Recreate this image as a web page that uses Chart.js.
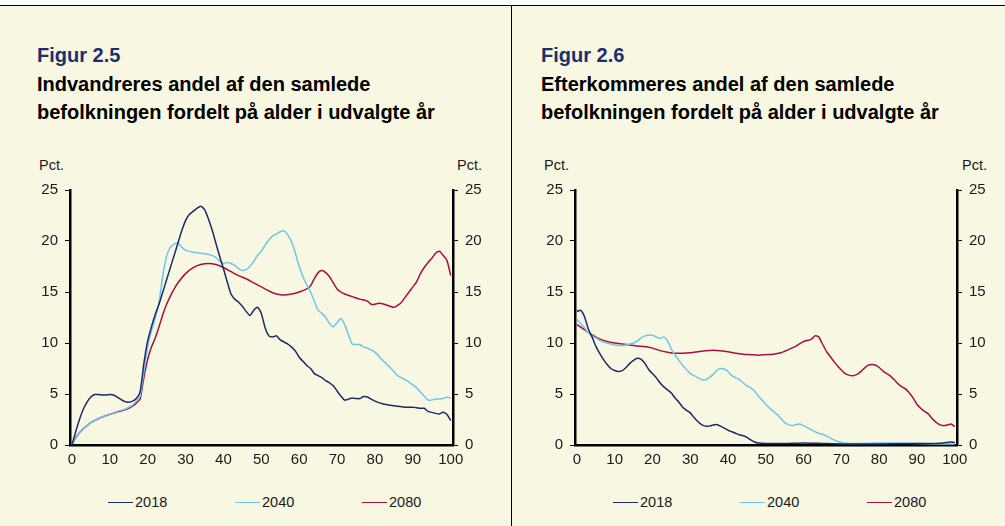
<!DOCTYPE html>
<html><head><meta charset="utf-8">
<script src="https://cdn.jsdelivr.net/npm/chart.js@4"></script>
<style>
html,body{margin:0;padding:0;background:#fff;}
body{width:1005px;height:526px;position:relative;overflow:hidden;font-family:"Liberation Sans",Arial,sans-serif;}
#bg{position:absolute;left:0;top:5px;width:1005px;height:521px;background:#F8F7E1;border-top:1.5px solid #000;box-sizing:border-box;}
#divider{position:absolute;left:511px;top:5px;width:1px;height:521px;background:#000;}
.title{position:absolute;top:41px;font-weight:bold;font-size:20px;line-height:28.5px;color:#000;white-space:nowrap;}
.title .fig{color:#1B2F6E;}
.pct{position:absolute;top:156px;font-size:14.5px;line-height:18px;color:#1a1a1a;}
canvas{position:absolute;}
.item{position:absolute;top:493px;font-size:14.5px;line-height:18px;color:#1a1a1a;white-space:nowrap;}
.swatch{display:inline-block;width:25px;height:0;border-top:1.5px solid;vertical-align:middle;margin-right:2px;position:relative;top:-1px;}
</style>
</head><body>
<div id="bg"></div>
<div id="divider"></div>
<div class="title" style="left:37px"><span class="fig">Figur 2.5</span><br>Indvandreres andel af den samlede<br>befolkningen fordelt på alder i udvalgte år</div>
<div class="title" style="left:541px"><span class="fig">Figur 2.6</span><br>Efterkommeres andel af den samlede<br>befolkningen fordelt på alder i udvalgte år</div>
<div class="pct" style="left:39px">Pct.</div>
<div class="pct" style="left:457px">Pct.</div>
<div class="pct" style="left:544px">Pct.</div>
<div class="pct" style="left:962px">Pct.</div>
<canvas id="c1" width="511" height="320" style="left:0;top:150px;width:511px;height:320px"></canvas>
<canvas id="c2" width="493" height="320" style="left:512px;top:150px;width:493px;height:320px"></canvas>
<div id="leg"></div>
<script>
// ---- data: [age, percent] ----
const seriesNames = ['2018', '2040', '2080'];
const seriesColors = ['#1B2A6B', '#6DC6EC', '#A8103C'];
const yTicks = [0, 5, 10, 15, 20, 25];
const xTicks = [0, 10, 20, 30, 40, 50, 60, 70, 80, 90, 100];

const fig25_2018 = [[0,0],[1,1.3],[2,2.5],[3,3.5],[4,4.2],[5,4.7],[6,4.95],[7,4.95],[8,4.9],[9,4.9],[10,4.95],[11,4.9],[12,4.7],[13,4.45],[14,4.25],[15,4.2],[16,4.3],[17,4.55],[18,5.2],[19,8.0],[20,10.2],[21,11.6],[22,12.8],[23,13.8],[24,15.0],[25,16.2],[26,17.4],[27,18.6],[28,19.8],[29,21.0],[30,22.0],[31,22.6],[32,22.9],[33,23.2],[34,23.4],[35,23.1],[36,22.2],[37,21.1],[38,19.8],[39,18.5],[40,17.3],[41,16.0],[42,14.8],[43,14.3],[44,14.0],[45,13.6],[46,13.1],[47,12.7],[48,13.2],[49,13.5],[50,12.9],[51,11.5],[52,10.7],[53,10.6],[54,10.7],[55,10.3],[56,10.1],[57,9.9],[58,9.6],[59,9.2],[60,8.6],[61,8.2],[62,7.8],[63,7.5],[64,7.0],[65,6.8],[66,6.6],[67,6.3],[68,6.1],[69,5.8],[70,5.3],[71,4.8],[72,4.4],[73,4.5],[74,4.6],[75,4.55],[76,4.55],[77,4.75],[78,4.7],[79,4.5],[80,4.3],[82,4.05],[84,3.9],[86,3.8],[88,3.7],[90,3.7],[91,3.65],[92,3.6],[93,3.6],[94,3.3],[95,3.2],[96,3.1],[97,3.05],[98,3.2],[99,3.0],[100,2.4]];
const fig25_2040 = [[0,0],[2,1.2],[4,1.9],[6,2.4],[8,2.75],[10,3.0],[12,3.3],[14,3.5],[15,3.7],[16,3.9],[17,4.3],[18,4.8],[19,7.2],[20,9.6],[21,11.2],[22,12.4],[23,14.0],[24,16.6],[25,18.5],[26,19.4],[27,19.7],[28,19.8],[29,19.4],[30,19.1],[32,18.9],[34,18.8],[36,18.7],[38,18.4],[39,18.0],[40,17.8],[41,17.9],[42,17.8],[43,17.6],[44,17.3],[45,17.1],[46,17.2],[47,17.5],[48,18.0],[49,18.6],[50,19.0],[51,19.6],[52,20.1],[53,20.5],[54,20.7],[55,20.9],[56,21.0],[57,20.6],[58,19.9],[59,18.8],[60,17.5],[61,16.5],[62,15.7],[63,15.0],[64,14.1],[65,13.2],[66,12.9],[67,12.5],[68,11.9],[69,11.6],[70,12.0],[71,12.4],[72,11.8],[73,10.8],[74,9.9],[75,9.85],[76,9.85],[77,9.6],[78,9.5],[80,9.1],[82,8.3],[84,7.6],[86,6.8],[88,6.4],[90,5.9],[91,5.6],[92,5.2],[93,4.8],[94,4.4],[95,4.4],[96,4.5],[97,4.5],[98,4.55],[99,4.7],[100,4.6]];
const fig25_2080 = [[0,0],[1,0.7],[2,1.2],[3,1.6],[4,1.9],[5,2.2],[6,2.4],[8,2.75],[10,3.0],[12,3.25],[14,3.45],[15,3.6],[16,3.8],[17,4.1],[18,4.5],[19,6.6],[20,8.4],[21,9.6],[22,10.5],[23,11.6],[24,12.8],[25,13.8],[26,14.6],[27,15.3],[28,15.9],[30,16.8],[32,17.4],[34,17.7],[36,17.8],[38,17.7],[40,17.4],[42,17.0],[44,16.6],[46,16.3],[48,15.9],[50,15.5],[52,15.1],[54,14.8],[56,14.7],[58,14.8],[60,15.0],[62,15.3],[63,15.6],[64,16.3],[65,16.9],[66,17.1],[67,16.9],[68,16.5],[69,15.9],[70,15.3],[71,15.0],[72,14.8],[74,14.55],[76,14.3],[78,14.1],[79,13.8],[80,13.8],[81,13.9],[82,13.85],[84,13.6],[85,13.5],[86,13.7],[87,14.0],[88,14.5],[89,15.0],[90,15.5],[91,16.0],[92,16.8],[93,17.4],[94,17.9],[95,18.3],[96,18.8],[97,19.0],[98,18.6],[99,18.1],[100,16.6]];

const fig26_2018 = [[0,13.1],[1,13.2],[2,12.6],[3,11.4],[4,10.6],[5,9.7],[6,9.0],[7,8.4],[8,7.9],[9,7.5],[10,7.3],[11,7.2],[12,7.3],[13,7.6],[14,8.0],[15,8.3],[16,8.5],[17,8.4],[18,8.0],[19,7.4],[20,7.0],[21,6.6],[22,6.1],[23,5.7],[24,5.4],[25,5.1],[26,4.6],[27,4.2],[28,3.7],[29,3.4],[30,3.15],[31,2.7],[32,2.3],[33,2.0],[34,1.85],[35,1.85],[36,1.95],[37,2.0],[38,1.85],[39,1.65],[40,1.45],[41,1.3],[42,1.15],[43,1.0],[44,0.9],[45,0.75],[46,0.5],[47,0.3],[48,0.2],[50,0.15],[55,0.15],[60,0.2],[65,0.15],[70,0.1],[80,0.1],[90,0.15],[95,0.15],[98,0.25],[99,0.3],[100,0.25]];
const fig26_2040 = [[0,12.35],[1,11.9],[2,11.5],[3,11.0],[4,10.7],[5,10.5],[6,10.25],[7,10.1],[8,10.0],[9,9.9],[10,9.8],[11,9.75],[12,9.75],[13,9.8],[14,9.9],[15,10.0],[16,10.2],[17,10.5],[18,10.7],[19,10.75],[20,10.75],[21,10.6],[22,10.45],[23,10.6],[24,10.2],[25,9.4],[26,8.8],[27,8.3],[28,7.8],[29,7.4],[30,7.0],[31,6.8],[32,6.6],[33,6.4],[34,6.4],[35,6.6],[36,6.9],[37,7.3],[38,7.5],[39,7.45],[40,7.2],[41,6.8],[42,6.6],[43,6.4],[44,6.1],[45,5.8],[46,5.6],[47,5.3],[48,4.8],[49,4.4],[50,4.0],[51,3.6],[52,3.3],[53,3.0],[54,2.6],[55,2.2],[56,2.0],[57,1.9],[58,2.0],[59,2.05],[60,1.9],[61,1.7],[62,1.5],[63,1.3],[64,1.15],[65,1.05],[66,0.9],[67,0.7],[68,0.5],[69,0.35],[70,0.25],[72,0.15],[75,0.15],[80,0.2],[85,0.2],[90,0.15],[95,0.1],[100,0.1]];
const fig26_2080 = [[0,11.8],[2,11.3],[4,10.8],[6,10.4],[8,10.15],[10,10.0],[12,9.9],[14,9.8],[16,9.7],[18,9.65],[20,9.5],[22,9.25],[24,9.1],[26,9.0],[28,9.0],[30,9.05],[32,9.15],[34,9.25],[36,9.3],[38,9.25],[40,9.15],[42,9.0],[44,8.9],[46,8.85],[48,8.8],[50,8.85],[52,8.9],[54,9.05],[56,9.35],[58,9.7],[60,10.15],[62,10.35],[63,10.7],[64,10.6],[65,9.9],[66,9.2],[67,8.7],[68,8.2],[69,7.75],[70,7.35],[71,7.0],[72,6.85],[73,6.8],[74,6.9],[75,7.15],[76,7.5],[77,7.8],[78,7.9],[79,7.85],[80,7.6],[81,7.25],[82,7.0],[83,6.75],[84,6.4],[85,6.0],[86,5.7],[87,5.5],[88,5.1],[89,4.6],[90,4.0],[91,3.6],[92,3.3],[93,3.05],[94,2.6],[95,2.25],[96,2.0],[97,1.9],[98,1.95],[99,2.05],[100,1.8]];

const TEXT = '#1a1a1a';
const FONT = {family: '"Liberation Sans", Arial, sans-serif', size: 15};

function yScale(pos, width) {
  return {
    type: 'linear', position: pos, min: 0, max: 25,
    afterBuildTicks: s => { s.ticks = yTicks.map(v => ({value: v})); },
    afterFit: s => { s.width = width; },
    ticks: {font: FONT, color: TEXT, padding: 7},
    grid: {drawOnChartArea: false, drawTicks: true, tickLength: 5, color: '#000', lineWidth: 1},
    border: {display: true, color: '#000', width: 2.5}
  };
}

function makeChart(id, series, leftW, rightW) {
  const datasets = series.map((s, i) => ({
    label: seriesNames[i],
    data: s.map(p => ({x: p[0], y: p[1]})),
    borderColor: seriesColors[i], backgroundColor: seriesColors[i],
    borderWidth: 1.5, pointRadius: 0, tension: 0.2, fill: false
  }));
  return new Chart(document.getElementById(id), {
    type: 'line',
    data: {datasets},
    options: {
      responsive: false, animation: false, devicePixelRatio: 1,
      layout: {padding: {top: 40, left: 0, right: 0, bottom: 0}},
      plugins: {legend: {display: false}, tooltip: {enabled: false}},
      scales: {
        x: {
          type: 'linear', position: 'bottom', min: -0.5, max: 100.6,
          afterBuildTicks: s => { s.ticks = xTicks.map(v => ({value: v})); },
          afterFit: s => { s.height = 25; },
          ticks: {font: FONT, color: TEXT, padding: 6, maxRotation: 0},
          grid: {drawOnChartArea: false, drawTicks: false},
          border: {display: true, color: '#000', width: 2.5}
        },
        y: yScale('left', leftW),
        y2: yScale('right', rightW)
      }
    }
  });
}

makeChart('c1', [fig25_2018, fig25_2040, fig25_2080], 70, 58);
makeChart('c2', [fig26_2018, fig26_2040, fig26_2080], 63, 48);

// legends (HTML)
const leg = document.getElementById('leg');
[108, 613].forEach(start => {
  seriesNames.forEach((n, i) => {
    const d = document.createElement('div');
    d.className = 'item';
    d.style.left = (start + i * 127) + 'px';
    d.innerHTML = '<span class="swatch" style="border-color:' + seriesColors[i] + '"></span>' + n;
    leg.appendChild(d);
  });
});
</script>
</body></html>
